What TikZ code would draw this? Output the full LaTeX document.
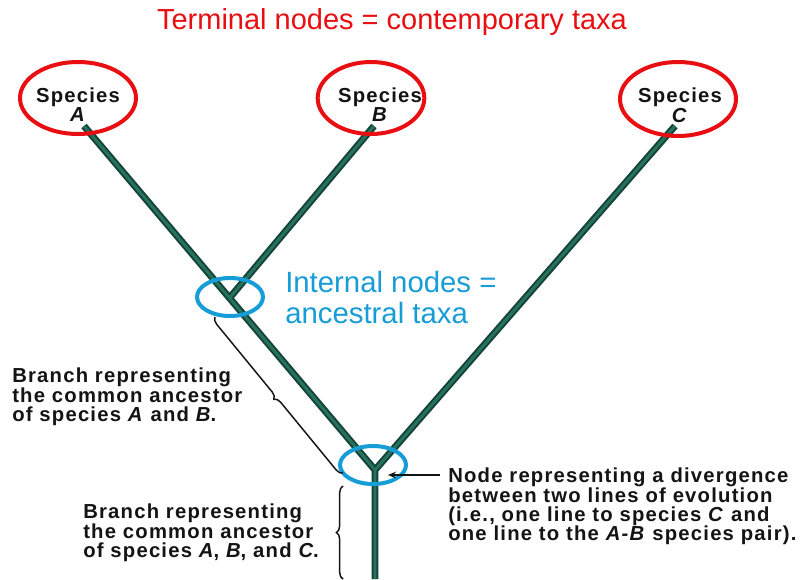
\documentclass[tikz,border=0pt]{standalone}
\usepackage{fontspec}
\setmainfont{Liberation Sans}
\newfontfamily\lblfont{Liberation Sans}[LetterSpace=6]
\usetikzlibrary{shapes.geometric,decorations.pathreplacing,arrows.meta}
\definecolor{tred}{RGB}{232,14,18}
\definecolor{tblue}{RGB}{22,156,214}
\definecolor{tblack}{RGB}{20,20,20}
\definecolor{brdark}{RGB}{20,68,56}
\definecolor{brlight}{RGB}{38,114,95}
\begin{document}
\begin{tikzpicture}[x=0.75pt,y=-0.75pt,
  redring/.style={draw=tred,line width=3pt,ellipse,inner sep=0pt},
  bluering/.style={draw=tblue,line width=3pt,ellipse,inner sep=0pt,minimum width=49.5pt,minimum height=28.5pt},
  splabel/.style={font=\lblfont\bfseries\fontsize{15.2pt}{13.5pt}\selectfont,align=center,inner sep=0pt,anchor=north,text=tblack},
  notetext/.style={font=\lblfont\bfseries\fontsize{15.2pt}{14.2pt}\selectfont,align=left,inner sep=0pt,anchor=north west,text=tblack},
  branchout/.style={draw=brdark,line width=5.2pt,line join=round,line cap=butt},
  branchin/.style={draw=brlight,line width=2.2pt,line join=round,line cap=butt},
  bracestyle/.style={decorate,decoration={brace,amplitude=5pt},draw=tblack,line width=1.1pt}]
\useasboundingbox[fill=white] (0,0) rectangle (807,579);

% tree coordinates
\coordinate (tA) at (84,126);
\coordinate (tB) at (374,126);
\coordinate (tC) at (675,126);
\coordinate (nAB) at (229.5,298);
\coordinate (root) at (375,470);
\coordinate (bot) at (375,579);

% branches
\draw[branchout] (tA) -- (root) (tB) -- (nAB) (tC) -- (root) -- (bot);
\draw[branchin] (tA) -- (root) (tB) -- (nAB) (tC) -- (root) -- (bot);

% title
\node[font=\fontsize{21.75pt}{24pt}\selectfont,text=tred,anchor=base,inner sep=0pt] (title) at (392,29) {Terminal nodes = contemporary taxa};

% species labels
\node[splabel] (lA) at (78,87.5) {Species\\\textit{A}};
\node[splabel] (lB) at (380,87.5) {Species\\\textit{B}};
\node[splabel] (lC) at (680,87.5) {Species\\\textit{C}};

% red rings
\node[redring,minimum width=87pt,minimum height=54pt] (eA) at (78,98) {};
\node[redring,minimum width=80pt,minimum height=54pt] (eB) at (371,98) {};
\node[redring,minimum width=87pt,minimum height=55.5pt] (eC) at (678,99) {};

% blue rings
\node[bluering] (eAB) at (230,297) {};
\node[bluering] (eRoot) at (373,465) {};

% internal nodes label
\node[font=\fontsize{22pt}{23.25pt}\selectfont,text=tblue,align=left,anchor=north west,inner sep=0pt] (inText) at (285,271) {Internal nodes =\\ancestral taxa};

% braces
\coordinate (b1s) at (343,473);
\coordinate (b1e) at (215,317);
\draw[bracestyle] (b1s) -- (b1e);
\coordinate (b2s) at (343,579);
\coordinate (b2e) at (343,486);
\draw[bracestyle] (b2s) -- (b2e);

% notes
\node[notetext] (n1) at (12,367.5) {Branch representing\\the common ancestor\\of species \textit{A} and \textit{B}.};
\node[notetext] (n2) at (83,503.5) {Branch representing\\the common ancestor\\of species \textit{A}, \textit{B}, and \textit{C}.};
\node[notetext] (n3) at (448,467.5) {Node representing a divergence\\between two lines of evolution\\(i.e., one line to species \textit{C} and\\one line to the \textit{A-B} species pair).};

% pointer
\coordinate (pS) at (440,475);
\coordinate (pE) at (388,475);
\draw[tblack,line width=1pt,-{Stealth[length=6pt,width=5pt]}] (pS) -- (pE);
\end{tikzpicture}
\end{document}
